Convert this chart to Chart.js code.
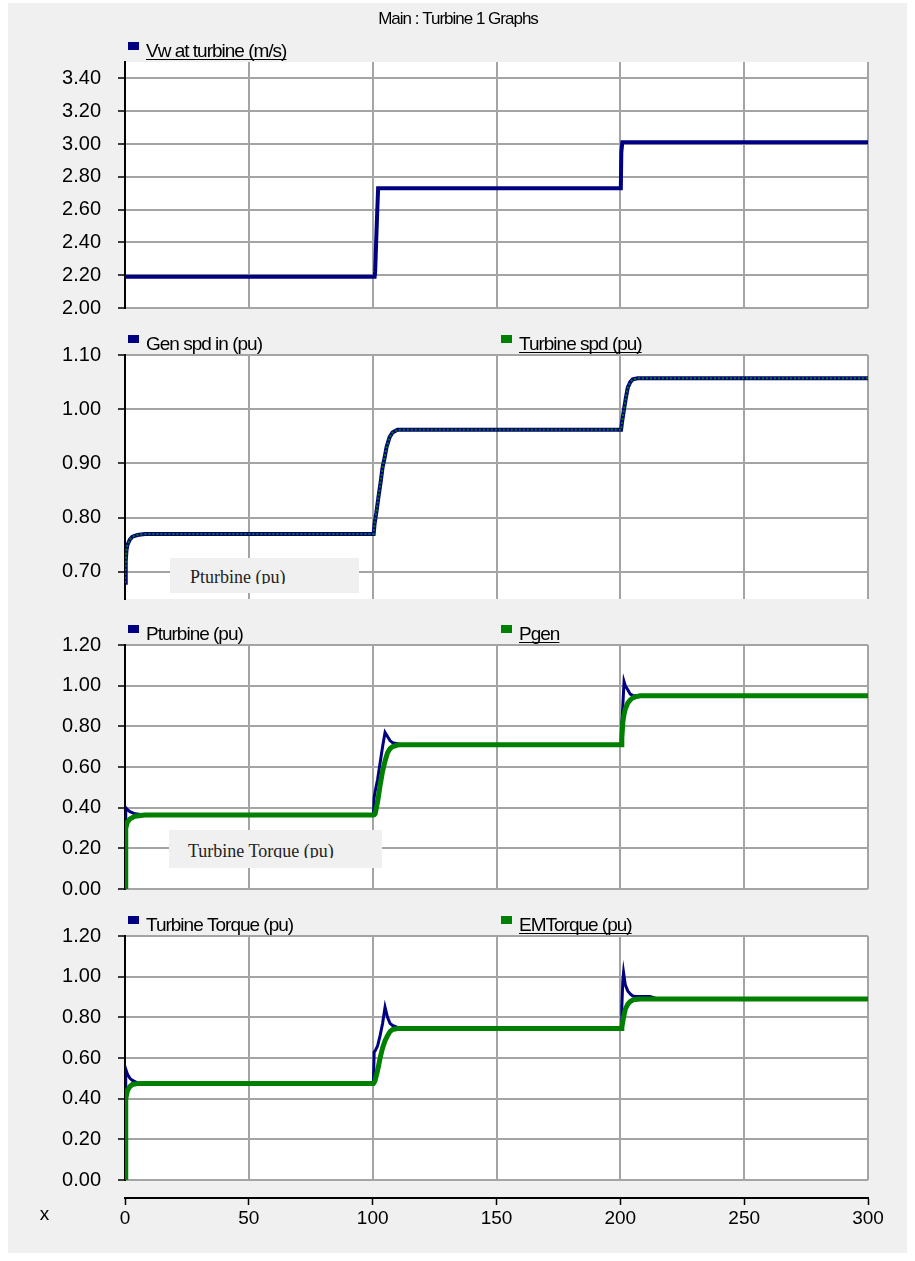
<!DOCTYPE html>
<html>
<head>
<meta charset="utf-8">
<script src="https://cdn.jsdelivr.net/npm/chart.js@4.4.1/dist/chart.umd.min.js"></script>
<style>
  html, body { margin: 0; padding: 0; background: #fff; overflow: hidden; }
  #page { position: relative; width: 915px; height: 1261px; }
  #frame { position: absolute; left: 8px; top: 3px; width: 899px; height: 1250px; background: #f0f0f0; }
  canvas { position: absolute; left: 0; }
  .tip { position: absolute; background: #f0f0f0; font-family: "Liberation Serif", "DejaVu Serif", serif; font-size: 18px; line-height: 20px; color: #222; }
  .tip div { position: absolute; overflow: hidden; white-space: nowrap; }
</style>
</head>
<body>
<div id="page">
  <div id="frame"></div>
  <canvas id="c1" width="915" height="340" style="top:0px"></canvas>
  <canvas id="c2" width="915" height="320" style="top:310px"></canvas>
  <canvas id="c3" width="915" height="320" style="top:600px"></canvas>
  <canvas id="c4" width="915" height="365" style="top:890px"></canvas>
  <div class="tip" style="left:170px;top:558px;width:189px;height:35px"><div style="left:20px;top:9px;height:17px">Pturbine (pu)</div></div>
  <div class="tip" style="left:169px;top:830px;width:213px;height:38px"><div style="left:19px;top:11px;height:17px">Turbine Torque (pu)</div></div>
</div>
<script>
// panel 1 - wind speed
const windT = [0, 100.8, 101.0, 101.4, 101.8, 102.2, 200.2, 200.4, 200.8, 300];
const windV = [2.19, 2.19, 2.22, 2.40, 2.57, 2.73, 2.73, 2.95, 3.01, 3.01];

// panel 2 - speeds
const spdT = [0, 0.3, 0.6, 1, 2, 3, 5, 8, 100.4, 100.8, 101.5, 102.4, 103.2, 104, 104.8, 105.6, 106.8, 108, 110,
  200.3, 200.8, 201.5, 202.2, 203, 204, 205, 207, 300];
const genSpd = [0.68, 0.72, 0.74, 0.75, 0.76, 0.765, 0.768, 0.77, 0.77, 0.79, 0.81, 0.84, 0.865, 0.893, 0.91, 0.93, 0.948, 0.957, 0.962,
  0.962, 0.98, 1.00, 1.02, 1.04, 1.05, 1.055, 1.057, 1.057];
const turbSpd = [0.68, 0.72, 0.74, 0.75, 0.76, 0.765, 0.768, 0.77, 0.77, 0.79, 0.81, 0.84, 0.865, 0.893, 0.91, 0.93, 0.948, 0.957, 0.962,
  0.962, 0.98, 1.00, 1.02, 1.04, 1.05, 1.055, 1.057, 1.057];

// panel 3 - power
const pwrT = [0, 0.3, 1, 2, 4, 8, 100.3, 100.6, 101, 102, 103, 104, 105, 106, 107, 108, 110, 112,
  200.3, 200.6, 201, 201.5, 202, 203, 204, 205, 206, 208, 300];
const pTurbine = [0, 0.40, 0.39, 0.38, 0.37, 0.364, 0.364, 0.45, 0.48, 0.54, 0.62, 0.70, 0.77, 0.75, 0.73, 0.72, 0.715, 0.71,
  0.71, 0.80, 0.90, 1.02, 1.00, 0.98, 0.958, 0.952, 0.95, 0.95, 0.95];
const pGen = [0, 0.30, 0.33, 0.345, 0.358, 0.364, 0.364, 0.365, 0.37, 0.43, 0.51, 0.58, 0.63, 0.67, 0.69, 0.70, 0.708, 0.71,
  0.71, 0.74, 0.82, 0.86, 0.885, 0.915, 0.93, 0.94, 0.945, 0.95, 0.95];

// panel 4 - torque
const trqT = [0, 0.3, 1, 2, 3, 5, 7, 100.3, 100.6, 101, 102, 103, 104, 105, 106, 107, 108, 110, 112,
  200.3, 200.6, 201, 201.3, 202, 203, 204, 205, 206, 208, 212, 215, 300];
const turbTorque = [0, 0.545, 0.52, 0.50, 0.49, 0.478, 0.475, 0.475, 0.63, 0.635, 0.66, 0.71, 0.77, 0.85, 0.80, 0.77, 0.76, 0.75, 0.745,
  0.745, 0.85, 0.98, 1.02, 0.96, 0.93, 0.915, 0.905, 0.904, 0.903, 0.903, 0.89, 0.89];
const emTorque = [0, 0.40, 0.44, 0.46, 0.47, 0.474, 0.475, 0.475, 0.48, 0.49, 0.54, 0.60, 0.65, 0.685, 0.71, 0.73, 0.74, 0.745, 0.745,
  0.745, 0.75, 0.78, 0.80, 0.84, 0.865, 0.878, 0.885, 0.888, 0.89, 0.89, 0.89, 0.89];

const xTicksStep = 50;
const ticksWind = [2.00, 2.20, 2.40, 2.60, 2.80, 3.00, 3.20, 3.40];
const ticksSpd = [0.70, 0.80, 0.90, 1.00, 1.10];
const ticksPu = [0.00, 0.20, 0.40, 0.60, 0.80, 1.00, 1.20];

const NAVY = '#000080';
const GREEN = '#008000';
const GRID = '#a4a4a4';
const FONT = '"Liberation Sans", Arial, sans-serif';

const decorPlugin = {
  id: 'decor',
  beforeDraw(chart) {
    const ctx = chart.ctx, a = chart.chartArea;
    ctx.save();
    ctx.fillStyle = '#ffffff';
    ctx.fillRect(a.left, a.top, a.right - a.left, a.bottom - a.top);
    ctx.restore();
  },
  afterDraw(chart, args, opts) {
    const ctx = chart.ctx, a = chart.chartArea;
    ctx.save();
    ctx.letterSpacing = '-1px';
    ctx.font = '19px ' + FONT;
    ctx.textBaseline = 'alphabetic';
    ctx.textAlign = 'left';
    chart.data.datasets.forEach(ds => {
      const x = a.left + ds.legendDx;
      ctx.fillStyle = ds.borderColor;
      ctx.fillRect(x, a.top - 20, 11, 8);
      ctx.fillStyle = '#000';
      const tx = x + 18, ty = a.top - 5;
      ctx.fillText(ds.label, tx, ty);
      if (ds.underline) {
        const w = ctx.measureText(ds.label).width;
        ctx.fillRect(tx, ty + 2, w, 1);
      }
    });
    (opts.texts || []).forEach(t => {
      ctx.font = t.size + 'px ' + FONT;
      ctx.textAlign = 'center';
      ctx.textBaseline = 'middle';
      ctx.fillStyle = '#000';
      ctx.fillText(t.text, t.x, t.y);
    });
    ctx.restore();
  }
};

function makeChart(id, cfg) {
  const datasets = cfg.series.map(s => ({
    label: s.label,
    data: cfg.t.map((t, k) => ({ x: t, y: s.values[k] })),
    borderColor: s.color,
    backgroundColor: s.color,
    borderWidth: s.width,
    borderDash: s.dash || [],
    pointRadius: 0,
    tension: 0,
    order: s.order,
    legendDx: s.dx,
    underline: s.underline
  }));
  const scales = {
    x: {
      type: 'linear', position: 'bottom', min: 0, max: 300, weight: 0,
      ticks: { display: false, stepSize: xTicksStep },
      grid: { color: GRID, lineWidth: 2, drawTicks: false },
      border: { display: false },
      afterFit: s => { s.height = cfg.xGap; }
    },
    y: {
      type: 'linear', min: cfg.yMin, max: cfg.yMax,
      afterBuildTicks: s => { s.ticks = cfg.yTicks.map(v => ({ value: v })); },
      afterFit: s => { s.width = 125; },
      grid: { color: GRID, lineWidth: 2, tickColor: '#000', tickLength: 7, tickWidth: 1.5 },
      border: { color: '#000', width: 2 },
      ticks: { color: '#000', font: { family: FONT, size: 20 }, padding: 17, callback: v => v.toFixed(2) }
    }
  };
  if (cfg.showX) {
    scales.xb = {
      type: 'linear', position: 'bottom', min: 0, max: 300, weight: 1,
      ticks: { stepSize: xTicksStep, color: '#000', font: { family: FONT, size: 19 }, padding: 2, maxRotation: 0, autoSkip: false },
      grid: { drawOnChartArea: false, drawTicks: true, tickLength: 7, tickColor: '#000', tickWidth: 1.5 },
      border: { color: '#000', width: 2 },
      afterFit: s => { s.height = 40; }
    };
  }
  return new Chart(document.getElementById(id), {
    type: 'line',
    data: { datasets: datasets },
    options: {
      responsive: false,
      animation: false,
      layout: { padding: { top: cfg.padTop, bottom: cfg.padBottom, left: 0, right: 47 } },
      scales: scales,
      plugins: {
        legend: { display: false },
        tooltip: { enabled: false },
        decor: { texts: cfg.texts || [] }
      }
    },
    plugins: [decorPlugin]
  });
}

makeChart('c1', {
  t: windT, yMin: 2.0, yMax: 3.5, yTicks: ticksWind, padTop: 62, padBottom: 32, xGap: 0,
  series: [{ label: 'Vw at turbine (m/s)', values: windV, color: NAVY, width: 4, order: 0, dx: 3, underline: true }],
  texts: [{ text: 'Main : Turbine 1 Graphs', x: 458, y: 19, size: 17 }]
});

makeChart('c2', {
  t: spdT, yMin: 0.65, yMax: 1.10, yTicks: ticksSpd, padTop: 45, padBottom: 31, xGap: 0,
  series: [
    { label: 'Gen spd in (pu)', values: genSpd, color: NAVY, width: 4, order: 1, dx: 3, underline: false },
    { label: 'Turbine spd (pu)', values: turbSpd, color: GREEN, width: 2, dash: [2, 2], order: 0, dx: 376, underline: true }
  ]
});

makeChart('c3', {
  t: pwrT, yMin: 0, yMax: 1.2, yTicks: ticksPu, padTop: 45, padBottom: 31, xGap: 0,
  series: [
    { label: 'Pturbine (pu)', values: pTurbine, color: NAVY, width: 3, order: 1, dx: 3, underline: false },
    { label: 'Pgen', values: pGen, color: GREEN, width: 5, order: 0, dx: 376, underline: true }
  ]
});

makeChart('c4', {
  t: trqT, yMin: 0, yMax: 1.2, yTicks: ticksPu, padTop: 46, padBottom: 17, xGap: 18, showX: true,
  series: [
    { label: 'Turbine Torque (pu)', values: turbTorque, color: NAVY, width: 3, order: 1, dx: 3, underline: false },
    { label: 'EMTorque (pu)', values: emTorque, color: GREEN, width: 5, order: 0, dx: 376, underline: true }
  ],
  texts: [{ text: 'x', x: 44, y: 325, size: 19 }]
});
</script>
</body>
</html>
